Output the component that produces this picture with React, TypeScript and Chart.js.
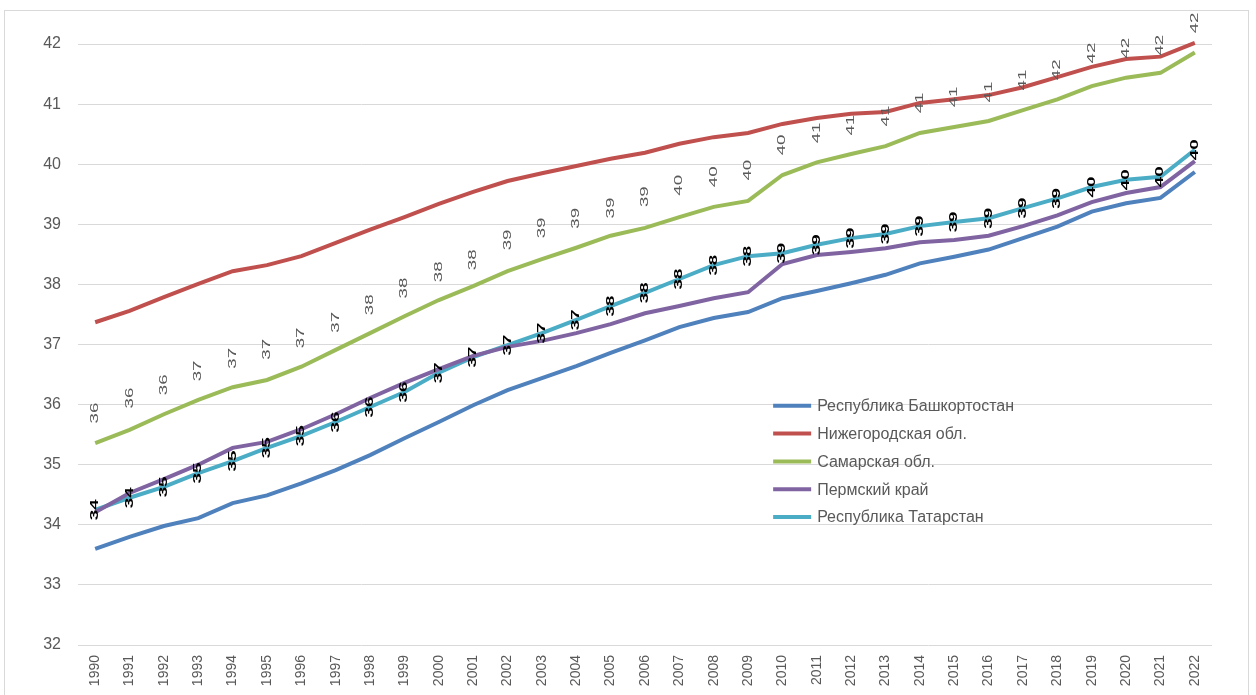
import React, { useEffect, useRef } from "react";
import { Chart, registerables } from "chart.js";

Chart.register(...registerables);

const years = [
  "1990", "1991", "1992", "1993", "1994", "1995", "1996", "1997", "1998", "1999",
  "2000", "2001", "2002", "2003", "2004", "2005", "2006", "2007", "2008", "2009",
  "2010", "2011", "2012", "2013", "2014", "2015", "2016", "2017", "2018", "2019",
  "2020", "2021", "2022",
];

const bashkortostan = [
  33.60, 33.80, 33.98, 34.11, 34.36, 34.49, 34.69, 34.91, 35.16, 35.44,
  35.71, 35.99, 36.24, 36.44, 36.64, 36.86, 37.07, 37.29, 37.44, 37.54,
  37.77, 37.89, 38.02, 38.16, 38.35, 38.46, 38.58, 38.77, 38.96, 39.21,
  39.35, 39.44, 39.87,
];

const nizhegorodskaya = [
  37.37, 37.56, 37.79, 38.01, 38.22, 38.32, 38.47, 38.69, 38.91, 39.12,
  39.34, 39.54, 39.72, 39.85, 39.97, 40.09, 40.19, 40.34, 40.45, 40.52,
  40.67, 40.77, 40.84, 40.87, 41.02, 41.08, 41.15, 41.28, 41.45, 41.62,
  41.75, 41.79, 42.02,
];

const samarskaya = [
  35.36, 35.58, 35.84, 36.08, 36.29, 36.41, 36.63, 36.91, 37.19, 37.47,
  37.74, 37.97, 38.22, 38.42, 38.61, 38.81, 38.94, 39.12, 39.29, 39.39,
  39.82, 40.03, 40.17, 40.30, 40.52, 40.62, 40.72, 40.90, 41.08, 41.30,
  41.44, 41.52, 41.86,
];

const permsky = [
  34.21, 34.53, 34.76, 35.00, 35.28, 35.38, 35.59, 35.84, 36.11, 36.36,
  36.59, 36.81, 36.96, 37.06, 37.19, 37.34, 37.52, 37.64, 37.77, 37.87,
  38.34, 38.49, 38.54, 38.60, 38.70, 38.74, 38.81, 38.97, 39.15, 39.37,
  39.52, 39.62, 40.05,
];

const tatarstan = [
  34.25, 34.45, 34.63, 34.86, 35.06, 35.28, 35.48, 35.71, 35.96, 36.21,
  36.53, 36.79, 36.99, 37.19, 37.41, 37.64, 37.86, 38.09, 38.32, 38.47,
  38.52, 38.66, 38.77, 38.84, 38.97, 39.04, 39.10, 39.27, 39.43, 39.62,
  39.74, 39.79, 40.24,
];

// unlabeled series shown only through its data labels (grey)
const labelOnlySeries = [
  35.86, 36.11, 36.33, 36.56, 36.77, 36.92, 37.11, 37.37, 37.66, 37.94,
  38.21, 38.41, 38.74, 38.94, 39.10, 39.27, 39.46, 39.65, 39.79, 39.90,
  40.32, 40.52, 40.65, 40.80, 41.02, 41.12, 41.20, 41.40, 41.57, 41.85,
  41.93, 41.98, 42.35,
];

const seriesNames = [
  "Республика Башкортостан",
  "Нижегородская обл.",
  "Самарская обл.",
  "Пермский край",
  "Республика Татарстан",
];

const seriesColors = ["#4F81BD", "#C0504D", "#9BBB59", "#8064A2", "#4BACC6"];

const yTicks = [32, 33, 34, 35, 36, 37, 38, 39, 40, 41, 42];

const FONT = "'Liberation Sans', Arial, sans-serif";

function drawRotatedLabel(ctx: CanvasRenderingContext2D, text: string, x: number, y: number, color: string, weight: string) {
  ctx.save();
  ctx.translate(x, y);
  ctx.rotate(-Math.PI / 2);
  ctx.scale(1.7, 1);
  ctx.font = `${weight} 11px ${FONT}`;
  ctx.fillStyle = color;
  ctx.textAlign = "center";
  ctx.textBaseline = "middle";
  ctx.fillText(text, 0, 0);
  ctx.restore();
}

const dataLabelPlugin = {
  id: "dataLabelPlugin",
  afterDatasetsDraw(chart: any) {
    const ctx = chart.ctx as CanvasRenderingContext2D;
    const xs = chart.scales.x;
    const ys = chart.scales.y;
    labelOnlySeries.forEach((v, i) => {
      drawRotatedLabel(ctx, String(Math.round(v)), xs.getPixelForValue(i), ys.getPixelForValue(v), "#595959", "normal");
    });
    const meta = chart.getDatasetMeta(4);
    meta.data.forEach((pt: any, i: number) => {
      drawRotatedLabel(ctx, String(Math.round(tatarstan[i])), pt.x, pt.y, "#000000", "bold");
    });
  },
};

const legendPlugin = {
  id: "customLegend",
  afterDraw(chart: any) {
    const ctx = chart.ctx as CanvasRenderingContext2D;
    const xs = chart.scales.x;
    const ys = chart.scales.y;
    // anchor the legend inside the plot area
    const x0 = xs.left + (xs.right - xs.left) * 0.613;
    const y0 = ys.getPixelForValue(35.98);
    const rowH = 27.8;
    ctx.save();
    ctx.font = `16px ${FONT}`;
    ctx.textBaseline = "middle";
    ctx.textAlign = "left";
    seriesNames.forEach((name, i) => {
      const y = y0 + i * rowH;
      ctx.strokeStyle = seriesColors[i];
      ctx.lineWidth = 4;
      ctx.beginPath();
      ctx.moveTo(x0, y);
      ctx.lineTo(x0 + 38, y);
      ctx.stroke();
      ctx.fillStyle = "#595959";
      ctx.fillText(name, x0 + 44, y + 1);
    });
    ctx.restore();
  },
};

export default function App() {
  const canvasRef = useRef<HTMLCanvasElement | null>(null);

  useEffect(() => {
    if (!canvasRef.current) return;
    const allSeries = [bashkortostan, nizhegorodskaya, samarskaya, permsky, tatarstan];
    const chart = new Chart(canvasRef.current, {
      type: "line",
      data: {
        labels: years,
        datasets: allSeries.map((d, i) => ({
          label: seriesNames[i],
          data: d,
          borderColor: seriesColors[i],
          backgroundColor: seriesColors[i],
          borderWidth: 4,
          pointRadius: 0,
          tension: 0,
          clip: 12,
        })),
      },
      options: {
        responsive: false,
        animation: false,
        events: [],
        layout: { padding: { top: 44, left: 0, right: 44, bottom: 0 } },
        plugins: {
          legend: { display: false },
          tooltip: { enabled: false },
          title: { display: false },
        },
        scales: {
          x: {
            offset: true,
            grid: { display: false, drawTicks: false },
            border: { display: false },
            ticks: {
              autoSkip: false,
              minRotation: 90,
              maxRotation: 90,
              padding: 10,
              color: "#595959",
              font: { family: FONT, size: 14 },
            },
            afterFit(scale: any) {
              scale.height = 50;
            },
          },
          y: {
            min: 32,
            max: 42,
            afterBuildTicks(scale: any) {
              scale.ticks = yTicks.map((v) => ({ value: v }));
            },
            grid: { color: "#D9D9D9", lineWidth: 1, drawTicks: false },
            border: { display: false },
            ticks: {
              padding: 17,
              color: "#595959",
              font: { family: FONT, size: 16 },
            },
            afterFit(scale: any) {
              scale.width = 78;
            },
          },
        },
      },
      plugins: [dataLabelPlugin, legendPlugin],
    });
    return () => chart.destroy();
  }, []);

  return (
    <div
      style={{
        position: "fixed",
        left: 0,
        top: 0,
        width: 1256,
        height: 695,
        background: "#ffffff",
        overflow: "hidden",
      }}
    >
      <div
        style={{
          position: "absolute",
          left: 4,
          top: 10,
          width: 1245,
          height: 720,
          border: "1px solid #D9D9D9",
          boxSizing: "border-box",
        }}
      />
      <canvas ref={canvasRef} width={1256} height={695} style={{ position: "absolute", left: 0, top: 0, display: "block" }} />
    </div>
  );
}
